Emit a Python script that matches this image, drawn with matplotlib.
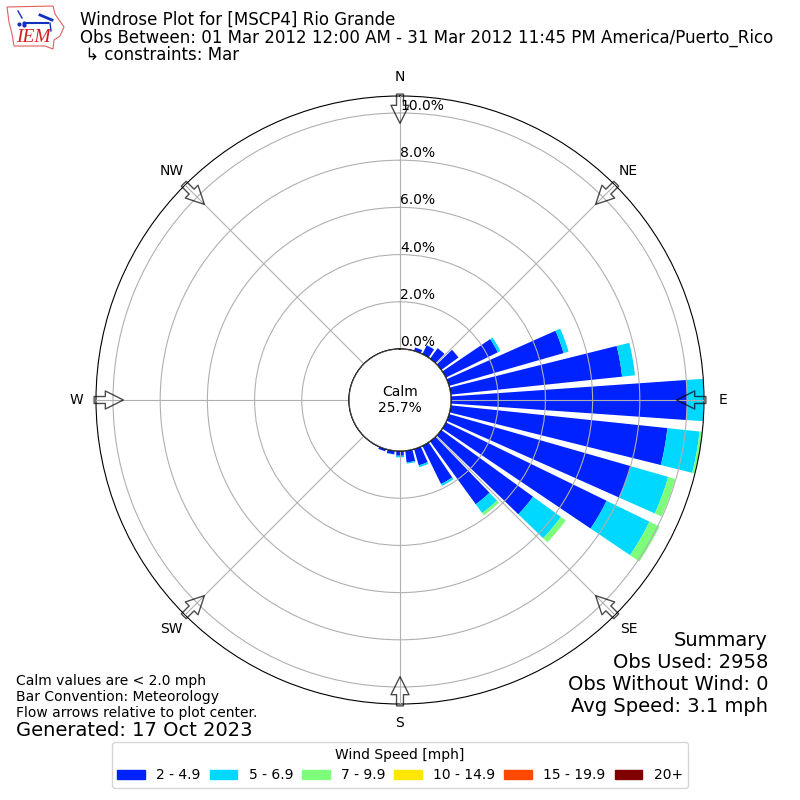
import numpy as np
import matplotlib
matplotlib.use("Agg")
import matplotlib.pyplot as plt
from matplotlib.patches import Circle, Polygon, Rectangle

# percent of obs per direction, stacked speed classes
directions = [10, 20, 30, 40, 50, 60, 70, 80, 90, 100, 110, 120, 130, 140, 150, 160, 170, 180,
              190, 200, 210, 220, 230, 240, 250, 260, 270, 280, 290, 300, 310, 320, 330, 340, 350, 360]
speed_2_5 = [0, 0.15, 0.42, 0.55, 0.9, 2.45, 5.05, 7.3, 10.0, 9.23, 8.02, 7.58, 4.81, 3.3, 1.8, 0.72, 0.5, 0.2,
             0.15, 0.1, 0.03, 0, 0, 0.02, 0, 0, 0, 0, 0, 0, 0, 0, 0, 0, 0, 0]
speed_5_7 = [0, 0, 0.01, 0, 0, 0.12, 0.22, 0.55, 0.7, 1.37, 1.64, 2.02, 1.46, 0.46, 0.09, 0.08, 0.05, 0.07,
             0.01, 0, 0, 0, 0, 0, 0, 0, 0, 0, 0, 0, 0, 0, 0, 0, 0, 0]
speed_7_10 = [0, 0, 0, 0, 0, 0, 0, 0, 0, 0.12, 0.31, 0.47, 0.25, 0.12, 0, 0, 0, 0,
              0, 0, 0, 0, 0, 0, 0, 0, 0, 0, 0, 0, 0, 0, 0, 0, 0, 0]
speed_labels = ["2 - 4.9", "5 - 6.9", "7 - 9.9", "10 - 14.9", "15 - 19.9", "20+"]
speed_colors = ["#0022ff", "#00d8ff", "#7dff7a", "#ffe600", "#ff4800", "#800000"]
ring_ticks = [0, 2, 4, 6, 8, 10]
compass = ["N", "NE", "E", "SE", "S", "SW", "W", "NW"]
compass_deg = [0, 45, 90, 135, 180, 225, 270, 315]

RMAX = 10.72
ARROW_LEN = 1.24

fig = plt.figure(figsize=(8, 8), dpi=100)
ax = fig.add_axes([96 / 800, 96 / 800, 608 / 800, 608 / 800], projection="polar")
ax.set_theta_zero_location("N")
ax.set_theta_direction(-1)
ax.set_rorigin(-51 / 23.6)
ax.set_ylim(0, RMAX)
ax.set_axisbelow(False)

theta = np.radians(directions)
width = np.radians(8)
bottom = np.zeros(len(directions))
for vals, color in zip([speed_2_5, speed_5_7, speed_7_10], speed_colors):
    ax.bar(theta, vals, width=width, bottom=bottom, color=color, linewidth=0, zorder=2)
    bottom += np.array(vals)

# empty bars only for the legend
handles = [Rectangle((0, 0), 1, 1, color=c) for c in speed_colors]

ax.set_yticks(ring_ticks)
ax.set_yticklabels(["%.1f%%" % t for t in ring_ticks], fontsize=10)
ax.set_rlabel_position(0)
for lab in ax.get_yticklabels():
    lab.set_ha("left")
    lab.set_va("bottom")
ax.set_thetagrids(compass_deg, compass, fontsize=10)
ax.tick_params(axis="x", pad=3.4)
ax.grid(True, color="#b0b0b0", linewidth=0.8, zorder=3)

# calm circle in the middle
ax.add_patch(Circle((0.5, 0.5), 51 / 608, transform=ax.transAxes, facecolor="white",
                    edgecolor="black", linewidth=1, zorder=5))
ax.text(0.5, 0.5, "Calm\n25.7%", transform=ax.transAxes, ha="center", va="center",
        fontsize=10, zorder=6)

# flow arrows
for deg in compass_deg:
    t = np.radians(deg)
    ax.annotate("", xy=(t, RMAX - ARROW_LEN + 0.08), xytext=(t, RMAX + 0.08), annotation_clip=False, zorder=7,
                arrowprops=dict(facecolor="none", edgecolor="black", alpha=0.7, linewidth=1,
                                width=5, headwidth=13, headlength=13, shrink=0))

# header
fig.text(80 / 800, 1 - 25 / 800, "Windrose Plot for [MSCP4] Rio Grande", fontsize=12, va="baseline")
fig.text(80 / 800, 1 - 43 / 800, "Obs Between: 01 Mar 2012 12:00 AM - 31 Mar 2012 11:45 PM America/Puerto_Rico",
         fontsize=12, va="baseline")
fig.text(80 / 800, 1 - 60 / 800, " \u21b3 constraints: Mar", fontsize=12, va="baseline")

# footer notes
fig.text(16 / 800, 1 - 720 / 800,
         "Calm values are < 2.0 mph\nBar Convention: Meteorology\nFlow arrows relative to plot center.",
         fontsize=10, va="bottom")
fig.text(16 / 800, 1 - 736 / 800, "Generated: 17 Oct 2023", fontsize=14, va="baseline")

fig.text(768 / 800, 1 - 716 / 800, "Summary\nObs Used: 2958\nObs Without Wind: 0\nAvg Speed: 3.1 mph",
         fontsize=14, ha="right", va="bottom", multialignment="right")

fig.legend(handles, speed_labels, title="Wind Speed [mph]", ncol=6, loc="center",
           bbox_to_anchor=(0.5, 1 - 765 / 800), fontsize=10, title_fontsize=10, columnspacing=0.65)

# logo, rough Iowa outline with the IEM mark
logo = fig.add_axes([0, 1 - 52 / 800, 68 / 800, 52 / 800])
logo.set_xlim(0, 68)
logo.set_ylim(52, 0)
logo.axis("off")
outline = [(7, 7), (53, 6), (55, 14), (64, 27), (60, 36), (54, 40), (53, 49), (45, 46),
           (14, 46), (12, 34), (9, 22)]
logo.add_patch(Polygon(outline, closed=True, facecolor="white", edgecolor="#e06060", linewidth=0.8))
logo.plot([26, 48], [23, 23], color="#1030c0", linewidth=1.5)
logo.plot([40, 52], [15, 20], color="#1030c0", linewidth=2)
logo.plot([18, 22], [11, 18], color="#1030c0", linewidth=1)
logo.plot([50, 51], [23, 31], color="#1030c0", linewidth=1)
logo.plot([24, 19, 24], [23, 24, 25], "o", color="#1030c0", markersize=2)
logo.text(16, 38, "IEM", color="#d02020", family="Liberation Serif", style="italic", fontsize=14, va="center")

fig.savefig("out.png", dpi=100)
